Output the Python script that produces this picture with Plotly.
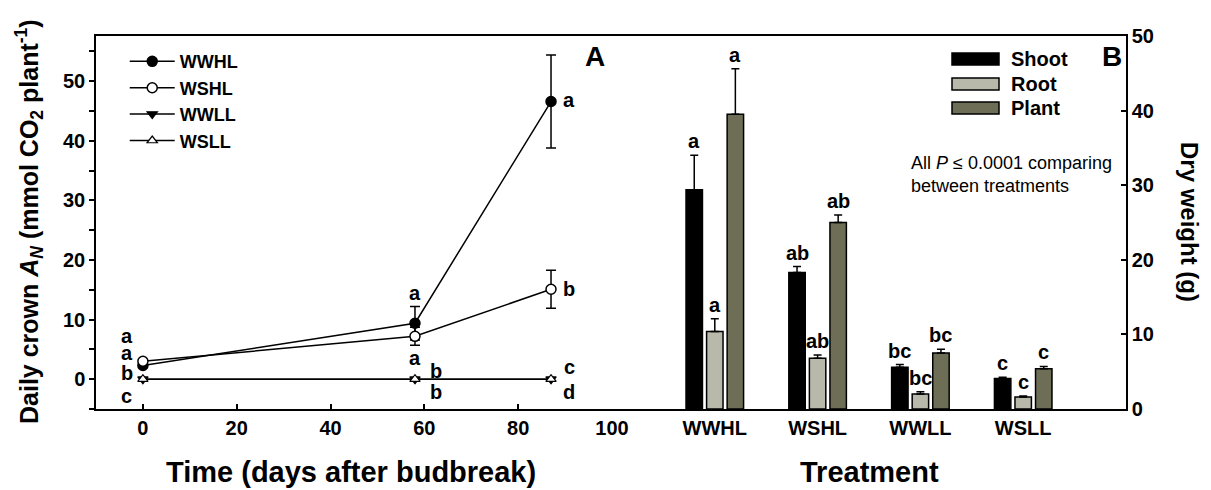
import plotly.graph_objects as go

# ---- Panel A: daily crown net assimilation over time ----
days = [0, 58, 87]
an_wwhl = [2.3, 9.4, 46.6]
an_wwhl_se = [0.3, 2.8, 7.8]
an_wshl = [3.0, 7.2, 15.1]
an_wshl_se = [0.3, 1.5, 3.2]
an_wwll = [0.0, 0.0, 0.0]
an_wsll = [0.0, 0.0, 0.0]

# Letter groups beside the points (x, y, text)
letters_a_x = [-3.4, -3.4, -3.4, -3.4, 58, 58, 62.5, 62.5, 90.9, 90.9, 90.9, 90.9]
letters_a_y = [7.2, 4.4, 1.0, -2.9, 14.5, 3.5, 1.3, -2.2, 46.9, 15.1, 2.0, -2.2]
letters_a_txt = ["a", "a", "b", "c", "a", "a", "b", "b", "a", "b", "c", "d"]

# ---- Panel B: dry weight by treatment ----
treatments = ["WWHL", "WSHL", "WWLL", "WSLL"]
parts = ["Shoot", "Root", "Plant"]
shoot = [29.4, 18.3, 5.6, 4.1]
shoot_se = [4.6, 0.8, 0.35, 0.15]
root = [10.4, 6.8, 2.0, 1.6]
root_se = [1.7, 0.45, 0.3, 0.15]
plant = [39.5, 25.0, 7.5, 5.4]
plant_se = [6.1, 1.0, 0.5, 0.3]
shoot_let = ["a", "ab", "bc", "c"]
root_let = ["a", "ab", "bc", "c"]
plant_let = ["a", "ab", "bc", "c"]

FONT = "Arial, Liberation Sans, sans-serif"
BLACK = "#000000"
ROOT_C = "#b9b9ab"
PLANT_C = "#6e6e56"
part_colors = [BLACK, ROOT_C, PLANT_C]

W, H = 1211, 490

fig = go.Figure()

err_style = dict(type="data", color=BLACK, thickness=1.5, width=5)

fig.add_trace(go.Scatter(
    x=days, y=an_wwhl, name="WWHL", mode="lines+markers",
    line=dict(color=BLACK, width=1.5),
    marker=dict(symbol="circle", size=10, color=BLACK, line=dict(color=BLACK, width=1.5)),
    error_y=dict(array=an_wwhl_se, **err_style),
    xaxis="x", yaxis="y"))
fig.add_trace(go.Scatter(
    x=days, y=an_wshl, name="WSHL", mode="lines+markers",
    line=dict(color=BLACK, width=1.5),
    marker=dict(symbol="circle", size=10, color="white", line=dict(color=BLACK, width=1.5)),
    error_y=dict(array=an_wshl_se, **err_style),
    xaxis="x", yaxis="y"))
fig.add_trace(go.Scatter(
    x=days, y=an_wwll, name="WWLL", mode="lines+markers",
    line=dict(color=BLACK, width=1.5),
    marker=dict(symbol="triangle-down", size=9, color=BLACK, line=dict(color=BLACK, width=1.2)),
    xaxis="x", yaxis="y"))
fig.add_trace(go.Scatter(
    x=days, y=an_wsll, name="WSLL", mode="lines+markers",
    line=dict(color=BLACK, width=1.5),
    marker=dict(symbol="triangle-up", size=9, color="white", line=dict(color=BLACK, width=1.2)),
    xaxis="x", yaxis="y"))

# Bars
pos = list(range(len(treatments)))
bar_err = dict(type="data", symmetric=False, arrayminus=[0] * len(pos),
               color=BLACK, thickness=1.5, width=4)
for name, vals, se, col in zip(parts, [shoot, root, plant], [shoot_se, root_se, plant_se],
                               part_colors):
    fig.add_trace(go.Bar(
        x=pos, y=vals, name=name, showlegend=False,
        marker=dict(color=col, line=dict(color=BLACK, width=1.5)),
        error_y=dict(array=se, **bar_err),
        xaxis="x2", yaxis="y2"))

annotations = []
shapes = []
lf = dict(family=FONT, size=20, color=BLACK, weight="bold")
for x, y, t in zip(letters_a_x, letters_a_y, letters_a_txt):
    annotations.append(dict(x=x, y=y, xref="x", yref="y", text=t, showarrow=False,
                            xanchor="center", yanchor="middle", font=lf))

offsets = [-0.2, 0.0, 0.2]
for off, vals, se, lets in zip(offsets, [shoot, root, plant], [shoot_se, root_se, plant_se],
                               [shoot_let, root_let, plant_let]):
    for i, (v, s, t) in enumerate(zip(vals, se, lets)):
        annotations.append(dict(x=pos[i] + off, y=v + s, xref="x2", yref="y2", text=t,
                                showarrow=False, xanchor="center", yanchor="bottom",
                                yshift=1, font=lf))


def paper_note(x, y, text, size, angle=0, bold=True, xanchor="center"):
    return dict(x=x, y=y, xref="paper", yref="paper", text=text, showarrow=False,
                textangle=angle, xanchor=xanchor, yanchor="middle", align="left",
                font=dict(family=FONT, size=size, color=BLACK,
                          weight="bold" if bold else "normal"))


# Key for the bar panel: wide outlined swatches with labels
key_rows_px = [59, 84, 108]
for name, col, cy in zip(parts, part_colors, key_rows_px):
    shapes.append(dict(type="rect", xref="paper", yref="paper",
                       x0=952 / W, x1=999 / W, y0=(H - cy - 6) / H, y1=(H - cy + 6) / H,
                       fillcolor=col, line=dict(color=BLACK, width=1.5)))
    annotations.append(paper_note(1009 / W, (H - cy) / H, name, 20, xanchor="left"))

# Panel labels, titles and note
annotations += [
    paper_note(595 / W, (H - 57) / H, "A", 28),
    paper_note(1112 / W, (H - 57) / H, "B", 28),
    paper_note(29 / W, (H - 222) / H,
               "Daily crown <i>A</i><sub><i>N</i></sub> (mmol CO<sub>2</sub> plant<sup>-1</sup>)",
               25, angle=-90),
    paper_note(1190 / W, (H - 222) / H, "Dry weight (g)", 24, angle=90),
    paper_note(351 / W, (H - 472) / H, "Time (days after budbreak)", 29),
    paper_note(869 / W, (H - 472) / H, "Treatment", 29),
    paper_note(909 / W, (H - 174) / H,
               "All <i>P</i> ≤ 0.0001 comparing<br>between treatments", 18,
               bold=False, xanchor="left"),
]

tickfont = dict(family=FONT, size=20, color=BLACK, weight="bold")
legfont = dict(family=FONT, size=18, color=BLACK, weight="bold")

fig.update_layout(
    width=W, height=H,
    margin=dict(l=0, r=0, t=0, b=0, pad=0, autoexpand=False),
    paper_bgcolor="white", plot_bgcolor="white",
    barmode="group", bargap=0.4, bargroupgap=0.2,
    annotations=annotations, shapes=shapes,
    xaxis=dict(domain=[96 / W, 612 / W], range=[-10, 100], tickvals=[0, 20, 40, 60, 80, 100],
               ticks="inside", ticklen=5, tickwidth=1.5, tickcolor=BLACK, automargin=False,
               showline=True, linecolor=BLACK, linewidth=1.5, mirror=True,
               showgrid=False, zeroline=False, tickfont=tickfont),
    yaxis=dict(domain=[(H - 409) / H, (H - 36) / H], range=[-5, 57.6],
               tickvals=[0, 10, 20, 30, 40, 50],
               ticks="outside", ticklen=5, tickwidth=1.5, tickcolor=BLACK, automargin=False,
               minor=dict(dtick=5, tick0=0, ticks="outside", ticklen=5, tickwidth=1.5, tickcolor=BLACK),
               showline=True, linecolor=BLACK, linewidth=1.5, anchor="x",
               showgrid=False, zeroline=False, tickfont=tickfont),
    yaxis3=dict(overlaying="y", side="right", anchor="x", range=[-5, 57.6], dtick=5, tick0=0,
                ticks="inside", ticklen=5, tickwidth=1.5, tickcolor=BLACK, automargin=False,
                showticklabels=False, showline=True, linecolor=BLACK, linewidth=1.5,
                showgrid=False, zeroline=False),
    xaxis2=dict(domain=[612 / W, 1126 / W], range=[-1, 4], tickvals=pos, ticktext=treatments,
                ticks="", showline=True, linecolor=BLACK, linewidth=1.5, mirror=True,
                anchor="y2", showgrid=False, zeroline=False, tickfont=tickfont, automargin=False),
    yaxis2=dict(domain=[(H - 409) / H, (H - 36) / H], range=[0, 50], dtick=10, side="right",
                anchor="x2",
                ticks="inside", ticklen=5, tickwidth=1.5, tickcolor=BLACK, automargin=False,
                showline=True, linecolor=BLACK, linewidth=1.5,
                showgrid=False, zeroline=False, tickfont=tickfont),
    yaxis4=dict(overlaying="y2", side="left", anchor="x2", range=[0, 50], dtick=10,
                ticks="outside", ticklen=5, tickwidth=1.5, tickcolor=BLACK, automargin=False,
                showticklabels=False, showline=True, linecolor=BLACK, linewidth=1.5,
                showgrid=False, zeroline=False),
    legend=dict(x=0.103, y=0.912, xanchor="left", yanchor="top", bgcolor="rgba(0,0,0,0)",
                font=legfont, itemwidth=45, tracegroupgap=0),
)

fig.write_html("out.html")
